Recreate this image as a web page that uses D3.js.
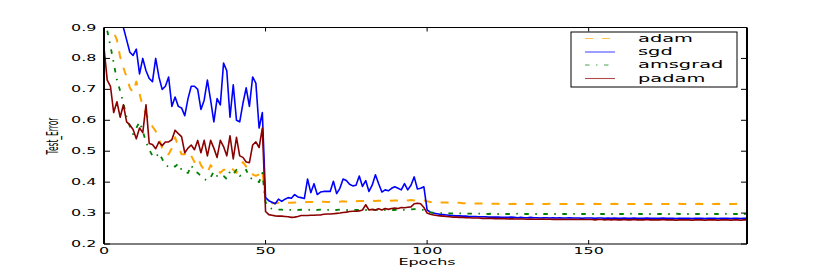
<!DOCTYPE html>
<html><head><meta charset="utf-8">
<script src="https://cdn.jsdelivr.net/npm/d3@7/dist/d3.min.js"></script>
<style>html,body{margin:0;padding:0;background:#fff}svg{display:block}text{font-family:"DejaVu Sans",sans-serif;fill:#000}</style>
</head><body>
<script>
const seriesNames = ["adam","sgd","amsgrad","padam"];
const xTicks = [0,50,100,150];
const yTicks = [0.2,0.3,0.4,0.5,0.6,0.7,0.8,0.9];
const yTickLabels = ["0.2","0.3","0.4","0.5","0.6","0.7","0.8","0.9"];
const xLabel = "Epochs";
const yLabel = "Test_Error";

const sgd = [
1.00,0.98,0.96,0.95,0.93,0.92,0.90,0.86,0.82,0.81,
0.83,0.75,0.80,0.76,0.735,0.725,0.80,0.74,0.70,0.71,
0.74,0.645,0.675,0.645,0.64,0.615,0.67,0.71,0.71,0.70,
0.635,0.665,0.73,0.665,0.595,0.67,0.65,0.785,0.76,0.61,
0.715,0.60,0.595,0.655,0.705,0.645,0.74,0.72,0.575,0.625,
0.35,0.34,0.335,0.33,0.345,0.338,0.345,0.35,0.348,0.36,
0.352,0.35,0.347,0.41,0.366,0.395,0.36,0.368,0.37,0.37,
0.37,0.403,0.363,0.38,0.41,0.405,0.393,0.388,0.39,0.42,
0.386,0.405,0.37,0.39,0.424,0.395,0.368,0.375,0.372,0.38,
0.385,0.38,0.375,0.395,0.375,0.39,0.417,0.378,0.38,0.385,
0.31,0.303,0.300,0.298,0.296,0.295,0.294,0.293,0.292,0.291,
0.291,0.290,0.290,0.289,0.289,0.289,0.288,0.288,0.288,0.287,
0.287,0.287,0.287,0.286,0.286,0.286,0.287,0.286,0.285,0.286,
0.285,0.285,0.286,0.285,0.285,0.284,0.285,0.285,0.284,0.285,
0.284,0.285,0.284,0.284,0.285,0.284,0.284,0.284,0.283,0.284,
0.284,0.284,0.283,0.284,0.284,0.283,0.284,0.283,0.284,0.283,
0.283,0.284,0.283,0.283,0.284,0.283,0.283,0.283,0.284,0.283,
0.283,0.283,0.283,0.284,0.283,0.283,0.283,0.282,0.283,0.283,
0.283,0.283,0.282,0.283,0.283,0.283,0.282,0.283,0.283,0.283,
0.282,0.283,0.283,0.283,0.282,0.283,0.283,0.282,0.283,0.283];

const padam = [
0.835,0.73,0.71,0.625,0.66,0.61,0.65,0.595,0.585,0.57,
0.54,0.575,0.56,0.65,0.525,0.522,0.508,0.53,0.518,0.53,
0.53,0.537,0.568,0.557,0.547,0.495,0.51,0.52,0.505,0.535,
0.495,0.535,0.485,0.535,0.51,0.48,0.535,0.515,0.485,0.55,
0.475,0.545,0.485,0.48,0.465,0.463,0.52,0.53,0.512,0.575,
0.305,0.295,0.293,0.291,0.29,0.29,0.289,0.288,0.286,0.287,
0.289,0.292,0.292,0.292,0.293,0.293,0.294,0.294,0.296,0.297,
0.297,0.298,0.299,0.300,0.302,0.303,0.305,0.306,0.306,0.307,
0.31,0.327,0.31,0.312,0.31,0.314,0.31,0.315,0.312,0.315,
0.316,0.315,0.318,0.317,0.319,0.32,0.33,0.332,0.33,0.318,
0.300,0.296,0.294,0.292,0.291,0.290,0.289,0.288,0.287,0.287,
0.286,0.286,0.285,0.285,0.284,0.284,0.284,0.283,0.283,0.283,
0.283,0.282,0.282,0.282,0.282,0.281,0.282,0.281,0.281,0.281,
0.281,0.280,0.281,0.280,0.280,0.280,0.281,0.280,0.280,0.279,
0.280,0.279,0.280,0.279,0.279,0.280,0.279,0.279,0.279,0.279,
0.279,0.279,0.278,0.279,0.279,0.278,0.279,0.278,0.279,0.278,
0.278,0.279,0.278,0.278,0.279,0.278,0.278,0.278,0.279,0.278,
0.278,0.278,0.278,0.279,0.278,0.278,0.278,0.277,0.278,0.278,
0.278,0.278,0.277,0.278,0.278,0.278,0.277,0.278,0.278,0.278,
0.277,0.278,0.278,0.278,0.277,0.278,0.278,0.277,0.278,0.278];

const adam = [
0.98,0.94,0.905,0.885,0.86,0.805,0.77,0.74,0.705,0.69,
0.725,0.685,0.645,0.62,0.60,0.58,0.565,0.54,0.51,0.49,
0.49,0.51,0.545,0.515,0.49,0.49,0.50,0.485,0.465,0.48,
0.455,0.44,0.43,0.455,0.44,0.44,0.43,0.44,0.44,0.45,
0.44,0.43,0.45,0.465,0.45,0.43,0.425,0.42,0.425,0.44,
0.34,0.333,0.332,0.332,0.333,0.333,0.332,0.333,0.333,0.334,
0.335,0.335,0.335,0.336,0.336,0.336,0.336,0.336,0.337,0.336,
0.336,0.337,0.337,0.337,0.338,0.337,0.338,0.338,0.338,0.339,
0.339,0.339,0.339,0.340,0.339,0.340,0.340,0.340,0.341,0.340,
0.341,0.341,0.341,0.342,0.341,0.342,0.341,0.342,0.342,0.341,
0.338,0.336,0.335,0.335,0.334,0.334,0.334,0.333,0.333,0.333,
0.333,0.332,0.332,0.332,0.331,0.331,0.331,0.331,0.330,0.330,
0.330,0.330,0.330,0.329,0.330,0.329,0.329,0.330,0.329,0.329,
0.329,0.329,0.329,0.330,0.329,0.329,0.329,0.329,0.330,0.329,
0.329,0.329,0.329,0.329,0.329,0.330,0.329,0.329,0.329,0.329,
0.329,0.329,0.330,0.329,0.329,0.329,0.329,0.329,0.330,0.329,
0.329,0.329,0.329,0.329,0.329,0.330,0.329,0.329,0.329,0.329,
0.329,0.330,0.329,0.329,0.329,0.329,0.329,0.329,0.330,0.329,
0.329,0.329,0.329,0.329,0.330,0.329,0.329,0.329,0.329,0.329,
0.330,0.329,0.329,0.329,0.329,0.329,0.330,0.329,0.329,0.329];

const amsgrad = [
0.95,0.89,0.84,0.785,0.73,0.695,0.655,0.61,0.58,0.555,
0.575,0.595,0.565,0.53,0.505,0.485,0.48,0.495,0.475,0.455,
0.45,0.455,0.45,0.46,0.44,0.43,0.43,0.455,0.435,0.43,
0.42,0.41,0.405,0.415,0.435,0.42,0.425,0.42,0.41,0.435,
0.425,0.44,0.42,0.425,0.44,0.415,0.41,0.405,0.40,0.43,
0.335,0.318,0.314,0.312,0.311,0.311,0.310,0.311,0.310,0.310,
0.310,0.311,0.310,0.310,0.311,0.310,0.310,0.311,0.310,0.310,
0.311,0.310,0.310,0.311,0.310,0.310,0.310,0.311,0.310,0.310,
0.311,0.310,0.310,0.311,0.310,0.311,0.310,0.310,0.311,0.310,
0.310,0.311,0.311,0.310,0.311,0.312,0.313,0.312,0.311,0.310,
0.304,0.302,0.301,0.301,0.300,0.300,0.300,0.299,0.299,0.299,
0.299,0.299,0.298,0.298,0.298,0.298,0.298,0.298,0.298,0.297,
0.298,0.297,0.297,0.298,0.297,0.297,0.297,0.297,0.298,0.297,
0.297,0.297,0.297,0.297,0.297,0.298,0.297,0.297,0.297,0.297,
0.297,0.297,0.297,0.297,0.297,0.297,0.298,0.297,0.297,0.297,
0.297,0.297,0.297,0.297,0.297,0.297,0.297,0.297,0.297,0.297,
0.297,0.297,0.297,0.298,0.297,0.297,0.297,0.297,0.297,0.297,
0.297,0.297,0.297,0.297,0.297,0.297,0.297,0.298,0.297,0.297,
0.297,0.297,0.297,0.297,0.297,0.297,0.297,0.297,0.297,0.297,
0.297,0.297,0.298,0.297,0.297,0.297,0.297,0.297,0.297,0.297];

const seriesData = [adam, sgd, amsgrad, padam];
const colors = ["#ffa500","#0000ff","#008000","#8b0000"];
const dashes = ["8,9", null, "4.5,6.5,1.5,6.5", null];
const widths = [2, 1.6, 1.8, 1.6];

const W = 830, H = 273;
const L = 104, R = 747, T = 27.5, B = 244;
const SX = 2;

const svg = d3.select("body").append("svg").attr("width", W).attr("height", H);
svg.append("rect").attr("width", W).attr("height", H).attr("fill", "#fff");

const x = d3.scaleLinear().domain([0, 199]).range([L, R]);
const y = d3.scaleLinear().domain([0.2, 0.9]).range([B, T]);

svg.append("clipPath").attr("id", "clip").append("rect")
  .attr("x", L).attr("y", T).attr("width", R - L).attr("height", B - T);

const line = d3.line().x((d, i) => x(i)).y(d => y(d));
const plot = svg.append("g").attr("clip-path", "url(#clip)");
seriesData.forEach((s, k) => {
  plot.append("path").attr("d", line(s)).attr("fill", "none")
    .attr("stroke", colors[k]).attr("stroke-width", widths[k])
    .attr("stroke-dasharray", dashes[k]).attr("stroke-linejoin", "round");
});

function stext(g, px, py, str, size, anchor) {
  return g.append("text").attr("transform", `translate(${px},${py}) scale(${SX},1)`)
    .attr("text-anchor", anchor).attr("font-size", size).text(str);
}

// spines
const ax = svg.append("g").attr("stroke", "#000");
ax.append("line").attr("x1", L).attr("x2", R).attr("y1", T).attr("y2", T).attr("stroke-width", 1);
ax.append("line").attr("x1", L).attr("x2", R).attr("y1", B).attr("y2", B).attr("stroke-width", 1.2);
ax.append("line").attr("x1", L).attr("x2", L).attr("y1", T).attr("y2", B).attr("stroke-width", 2);
ax.append("line").attr("x1", R).attr("x2", R).attr("y1", T).attr("y2", B).attr("stroke-width", 2);

// y ticks
yTicks.forEach((v, i) => {
  ax.append("line").attr("x1", L).attr("x2", L + 6).attr("y1", y(v)).attr("y2", y(v));
  ax.append("line").attr("x1", R).attr("x2", R - 6).attr("y1", y(v)).attr("y2", y(v));
  stext(svg, 96.5, y(v) + 3, yTickLabels[i], 8, "end");
});
// x ticks
xTicks.forEach(v => {
  ax.append("line").attr("x1", x(v)).attr("x2", x(v)).attr("y1", B).attr("y2", B - 4);
  ax.append("line").attr("x1", x(v)).attr("x2", x(v)).attr("y1", T).attr("y2", T + 4);
  stext(svg, x(v), 254, String(v), 8, "middle");
});

stext(svg, 427, 264.5, xLabel, 8, "middle");
svg.append("text").attr("transform", `translate(58,136) scale(${SX},1) rotate(-90)`)
  .attr("text-anchor", "middle").attr("font-size", 7.5).text(yLabel);

// legend
const lg = svg.append("g");
lg.append("rect").attr("x", 571).attr("y", 32).attr("width", 166).attr("height", 55)
  .attr("fill", "#fff").attr("stroke", "#000").attr("stroke-width", 1);
const rowY = [38.5, 52, 65, 78.5];
seriesNames.forEach((n, k) => {
  lg.append("line").attr("x1", 585).attr("x2", 615).attr("y1", rowY[k]).attr("y2", rowY[k])
    .attr("stroke", colors[k]).attr("stroke-width", 1.1).attr("stroke-opacity", 0.7)
    .attr("stroke-dasharray", dashes[k]);
  stext(lg, 638, rowY[k] + 3.3, n, 9.7, "start");
});
</script>
</body></html>
